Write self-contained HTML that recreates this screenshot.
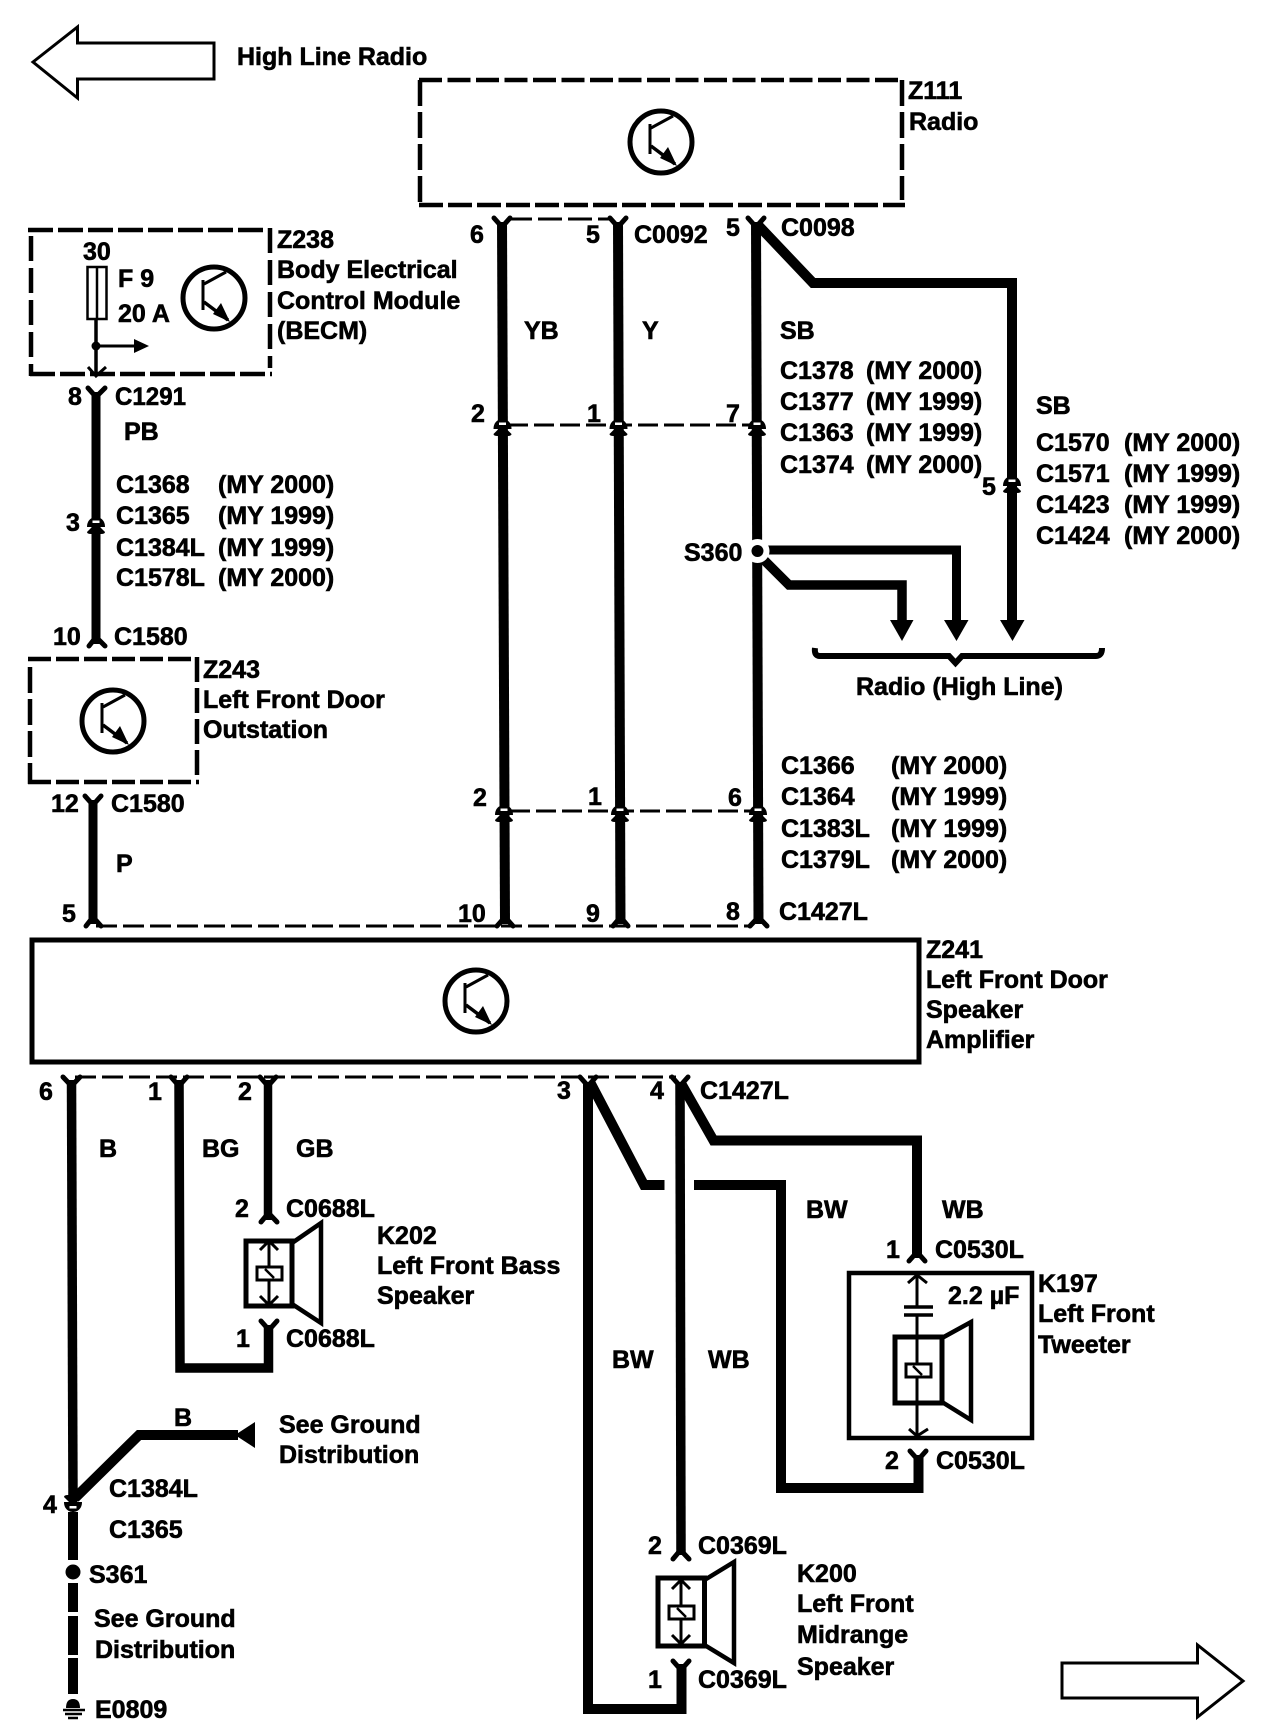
<!DOCTYPE html>
<html><head><meta charset="utf-8"><title>Radio wiring diagram</title>
<style>
html,body{margin:0;padding:0;background:#fff;width:1280px;height:1732px;overflow:hidden}
svg{display:block}
text{font-family:"Liberation Sans",Arial,sans-serif;font-weight:700;font-size:25px;fill:#000;stroke:#000;stroke-width:.6px}
.w{fill:none;stroke:#000;stroke-linejoin:miter;stroke-linecap:butt}
.f{fill:none;stroke:#000;stroke-width:5;stroke-linecap:round;stroke-linejoin:miter}
</style></head><body>
<svg xmlns="http://www.w3.org/2000/svg" width="1280" height="1732" viewBox="0 0 1280 1732">
<defs>
<g id="tr">
  <ellipse cx="0" cy="0" rx="31" ry="31" fill="none" stroke="#000" stroke-width="5"/>
  <path d="M-11 -18V12" fill="none" stroke="#000" stroke-width="3"/>
  <path d="M-10 -14L12 -26" fill="none" stroke="#000" stroke-width="3"/>
  <path d="M-10 4L14 22" fill="none" stroke="#000" stroke-width="3.500"/>
  <path d="M16 24L-1 16L7 5Z" fill="#000"/>
</g>
<g id="ic">
  <path d="M-9 5C-9 -3 -3 -5 0 -5C3 -5 9 -3 9 5Z" fill="#000"/>
  <rect x="-3.500" y="-1.500" width="7" height="2.500" fill="#fff"/>
  <path d="M-9 10L-4 5H4L9 10Q9 12 5 12H-5Q-9 12 -9 10Z" fill="#000"/>
</g>
<g id="sp">
  <path d="M0 -30V30" fill="none" stroke="#000" stroke-width="3"/>
  <path d="M-9 -23L0 -32L9 -23M-9 23L0 32L9 23" fill="none" stroke="#000" stroke-width="3"/>
  <rect x="-12" y="-6" width="25" height="13" fill="#fff" stroke="#000" stroke-width="3"/>
  <path d="M-4 -4L5 5" fill="none" stroke="#000" stroke-width="2.500"/>
</g>
</defs>

<!-- big arrows -->
<path d="M33 62L77.500 27V43H214V79H77.500V98Z" fill="none" stroke="#000" stroke-width="3"/>
<path d="M1062 1663H1197.500V1645L1243 1681L1197.500 1717V1698H1062Z" fill="none" stroke="#000" stroke-width="3"/>

<!-- Z111 box -->
<path class="w" stroke-width="4.500" stroke-dasharray="23 5.500" d="M419 80H901"/>
<path class="w" stroke-width="4.500" stroke-dasharray="24 5" d="M419 205H905"/>
<path class="w" stroke-width="4.500" stroke-dasharray="26 6" d="M420 80V205"/>
<path class="w" stroke-width="4.500" stroke-dasharray="26 6" d="M902 80V200"/>
<use href="#tr" x="661" y="142"/>

<!-- Z238 box -->
<path class="w" stroke-width="4.500" stroke-dasharray="25 5" d="M28 230H265"/>
<path class="w" stroke-width="4.500" stroke-dasharray="25 5" d="M30 374H272"/>
<path class="w" stroke-width="4.500" stroke-dasharray="25 7" d="M31 236V376"/>
<path class="w" stroke-width="4.500" stroke-dasharray="25 7" d="M270 228V368"/>
<use href="#tr" x="214" y="298"/>
<rect x="87.500" y="267" width="19" height="52" fill="none" stroke="#000" stroke-width="2.500"/>
<path d="M97 267V319" stroke="#000" stroke-width="2.500" fill="none"/>
<path d="M96 319V375" stroke="#000" stroke-width="3.500" fill="none"/>
<circle cx="96" cy="346" r="4.500" fill="#000"/>
<path d="M96 346H136" stroke="#000" stroke-width="3" fill="none"/>
<path d="M134 339L149 346L134 353Z" fill="#000"/>
<path d="M88 367L96 376L106 367" stroke="#000" stroke-width="3" fill="none"/>

<!-- Z243 box -->
<path class="w" stroke-width="4.500" stroke-dasharray="23 5" d="M28 659H192"/>
<path class="w" stroke-width="4.500" stroke-dasharray="23 5" d="M28 782H199"/>
<path class="w" stroke-width="4.500" stroke-dasharray="26 6" d="M30 667V784"/>
<path class="w" stroke-width="4.500" stroke-dasharray="25 6" d="M197 657V776"/>
<use href="#tr" x="113" y="721"/>

<!-- Z241 amp -->
<rect x="32" y="940" width="887" height="122" fill="none" stroke="#000" stroke-width="5"/>
<use href="#tr" x="476" y="1001"/>

<!-- horizontal thin dashed lines -->
<path class="w" stroke-width="3" stroke-dasharray="24 6" d="M508 219H612"/>
<path class="w" stroke-width="3" stroke-dasharray="20 6" d="M508 425H750"/>
<path class="w" stroke-width="3" stroke-dasharray="20 6" d="M510 811H752"/>
<path class="w" stroke-width="3" stroke-dasharray="21 6" d="M96 926H752"/>
<path class="w" stroke-width="3" stroke-dasharray="21 6" d="M75 1077H676"/>

<!-- upper wires -->
<path class="w" stroke-width="10" d="M502 222L505 924"/>
<path class="w" stroke-width="10" d="M618 222L620.500 924"/>
<path class="w" stroke-width="10" d="M756 222L758.500 924"/>
<path class="w" stroke-width="10" d="M757 224L813 283H1012V622"/>
<path class="w" stroke-width="9" d="M96 392V644"/>
<path class="w" stroke-width="9" d="M93 800V924"/>
<path class="w" stroke-width="9" d="M760 550H956.500V622"/>
<path class="w" stroke-width="9.500" d="M762 558L789 585H902V622"/>

<!-- arrowheads to radio -->
<path d="M890 620H913.500L902 641Z" fill="#000"/>
<path d="M944 620H968.500L956.500 641Z" fill="#000"/>
<path d="M1000 620H1024.500L1012.500 641Z" fill="#000"/>
<path d="M815 648Q814 656 820 656H949L955.500 663L962 656H1096Q1102 656 1102 648" fill="none" stroke="#000" stroke-width="6"/>

<!-- S360 -->
<circle cx="757.500" cy="551" r="12" fill="#fff"/>
<circle cx="757.500" cy="551" r="6" fill="#000"/>

<!-- forks -->
<path class="f" d="M494 218L502 227L510 218"/>
<path class="f" d="M610 218L618 227L626 218"/>
<path class="f" d="M748 218L756 227L764 218"/>
<path class="f" d="M88 388L96 397L105 388"/>
<path class="f" d="M89 646L96 637L105 646"/>
<path class="f" d="M85 796L93 805L101 796"/>
<path class="f" d="M86 926L93 917L101 926"/>
<path class="f" d="M497 926L505 917L513 926"/>
<path class="f" d="M613 926L620.500 917L628 926"/>
<path class="f" d="M750 926L758.500 917L767 926"/>

<!-- inline connectors -->
<use href="#ic" x="502.500" y="424"/>
<use href="#ic" x="618.500" y="424"/>
<use href="#ic" x="757" y="424"/>
<use href="#ic" x="504" y="810"/>
<use href="#ic" x="620" y="810"/>
<use href="#ic" x="758" y="810"/>
<use href="#ic" x="96" y="522"/>
<use href="#ic" x="1012" y="481"/>

<!-- lower wires -->
<path class="w" stroke-width="9.500" d="M71.500 1080L73 1500"/>
<path class="w" stroke-width="9.500" d="M179 1080L180 1368H268.500V1325"/>
<path class="w" stroke-width="8.500" d="M268 1080V1220"/>
<path class="w" stroke-width="10" d="M588 1082V1709H681.500V1664"/>
<path class="w" stroke-width="10" d="M590 1082L644 1185H664.500"/>
<path class="w" stroke-width="10" d="M694 1185H781V1488H918.500V1455"/>
<path class="w" stroke-width="9.500" d="M680 1082L681 1555"/>
<path class="w" stroke-width="10" d="M682 1085L713.500 1140.500H917V1258"/>

<path class="f" d="M63 1077L71.500 1086L80 1077"/>
<path class="f" d="M171 1077L179 1086L187 1077"/>
<path class="f" d="M260 1077L268 1086L276 1077"/>
<path class="f" d="M580 1077L588 1086L596 1077"/>
<path class="f" d="M672 1077L680 1086L688 1077"/>
<path class="f" d="M261 1222L268.500 1213L277 1222"/>
<path class="f" d="M261 1321L269 1330L277 1321"/>
<path class="f" d="M909 1261L917 1252L925 1261"/>
<path class="f" d="M910 1451L918 1460L926 1451"/>
<path class="f" d="M673 1559L680.500 1550L689 1559"/>
<path class="f" d="M673 1661L681 1670L689 1661"/>

<!-- K202 speaker -->
<rect x="246" y="1241" width="46" height="65" fill="#fff" stroke="#000" stroke-width="5"/>
<path d="M292 1243L321 1223V1323L292 1304" fill="none" stroke="#000" stroke-width="4.500"/>
<use href="#sp" x="269" y="1273"/>

<!-- K197 -->
<rect x="849" y="1273" width="183" height="165" fill="none" stroke="#000" stroke-width="4.500"/>
<path d="M917 1276V1307M917 1315V1435" stroke="#000" stroke-width="3" fill="none"/>
<path d="M904 1307H933M904 1315H933" stroke="#000" stroke-width="3.500" fill="none"/>
<path d="M908 1283L917 1275L927 1283M909 1429L917 1436L928 1429" stroke="#000" stroke-width="3" fill="none"/>
<rect x="895" y="1337" width="47" height="66" fill="none" stroke="#000" stroke-width="5"/>
<path d="M942 1338L971 1322V1420L942 1402" fill="none" stroke="#000" stroke-width="4.500"/>
<rect x="906" y="1364" width="25" height="13" fill="#fff" stroke="#000" stroke-width="3"/>
<path d="M913 1366L922 1375" fill="none" stroke="#000" stroke-width="2.500"/>

<!-- K200 speaker -->
<rect x="658" y="1578" width="46.500" height="68" fill="#fff" stroke="#000" stroke-width="5"/>
<path d="M704.500 1580L734 1562V1663L704.500 1645" fill="none" stroke="#000" stroke-width="4.500"/>
<use href="#sp" x="681" y="1612"/>

<!-- Ground run -->
<path class="w" stroke-width="10" d="M75 1498L139 1435H238"/>
<path d="M235 1435L255 1422V1448Z" fill="#000"/>
<g transform="translate(73 1507) scale(1 -1)"><use href="#ic"/></g>
<path class="w" stroke-width="10" d="M73 1512V1560"/>
<circle cx="73" cy="1572" r="7.500" fill="#000"/>
<path class="w" stroke-width="10" d="M73 1583V1612M73 1616V1655M73 1658V1694"/>
<path d="M66 1708Q66 1699 73 1699Q80 1699 80 1708Z" fill="#000"/>
<path d="M63 1710H85M65 1714H82M68 1718H78" stroke="#000" stroke-width="2.500" fill="none"/>

<!-- Labels -->
<text x="237" y="65">High Line Radio</text>
<text x="908" y="99">Z111</text>
<text x="909" y="130">Radio</text>
<text x="470" y="243">6</text>
<text x="586" y="243">5</text>
<text x="634" y="243">C0092</text>
<text x="726" y="236">5</text>
<text x="781" y="236">C0098</text>
<text x="277" y="248">Z238</text>
<text x="277" y="278">Body Electrical</text>
<text x="277" y="309">Control Module</text>
<text x="277" y="339">(BECM)</text>
<text x="83" y="260">30</text>
<text x="118" y="287">F 9</text>
<text x="118" y="322">20 A</text>
<text x="68" y="405">8</text>
<text x="115" y="405" textLength="71" lengthAdjust="spacingAndGlyphs">C1291</text>
<text x="124" y="440">PB</text>
<text x="524" y="339">YB</text>
<text x="642" y="339">Y</text>
<text x="780" y="339">SB</text>
<text x="780" y="379">C1378</text><text x="866" y="379">(MY 2000)</text>
<text x="780" y="410">C1377</text><text x="866" y="410">(MY 1999)</text>
<text x="780" y="441">C1363</text><text x="866" y="441">(MY 1999)</text>
<text x="780" y="473">C1374</text><text x="866" y="473">(MY 2000)</text>
<text x="471" y="422">2</text>
<text x="587" y="422">1</text>
<text x="726" y="422">7</text>
<text x="1036" y="414">SB</text>
<text x="1036" y="451">C1570</text><text x="1124" y="451">(MY 2000)</text>
<text x="1036" y="482">C1571</text><text x="1124" y="482">(MY 1999)</text>
<text x="1036" y="513">C1423</text><text x="1124" y="513">(MY 1999)</text>
<text x="1036" y="544">C1424</text><text x="1124" y="544">(MY 2000)</text>
<text x="982" y="495">5</text>
<text x="684" y="561">S360</text>
<text x="116" y="493">C1368</text><text x="218" y="493">(MY 2000)</text>
<text x="116" y="524">C1365</text><text x="218" y="524">(MY 1999)</text>
<text x="116" y="556">C1384L</text><text x="218" y="556">(MY 1999)</text>
<text x="116" y="586">C1578L</text><text x="218" y="586">(MY 2000)</text>
<text x="66" y="531">3</text>
<text x="53" y="645">10</text>
<text x="114" y="645">C1580</text>
<text x="203" y="678">Z243</text>
<text x="203" y="708">Left Front Door</text>
<text x="203" y="738">Outstation</text>
<text x="856" y="695">Radio (High Line)</text>
<text x="781" y="774">C1366</text><text x="891" y="774">(MY 2000)</text>
<text x="781" y="805">C1364</text><text x="891" y="805">(MY 1999)</text>
<text x="781" y="837">C1383L</text><text x="891" y="837">(MY 1999)</text>
<text x="781" y="868">C1379L</text><text x="891" y="868">(MY 2000)</text>
<text x="473" y="806">2</text>
<text x="588" y="805">1</text>
<text x="728" y="806">6</text>
<text x="51" y="812">12</text>
<text x="111" y="812">C1580</text>
<text x="116" y="872">P</text>
<text x="62" y="922">5</text>
<text x="458" y="922">10</text>
<text x="586" y="922">9</text>
<text x="726" y="920">8</text>
<text x="779" y="920">C1427L</text>
<text x="926" y="958">Z241</text>
<text x="926" y="988">Left Front Door</text>
<text x="926" y="1018">Speaker</text>
<text x="926" y="1048">Amplifier</text>
<text x="39" y="1100">6</text>
<text x="148" y="1100">1</text>
<text x="238" y="1100">2</text>
<text x="557" y="1099">3</text>
<text x="650" y="1099">4</text>
<text x="700" y="1099">C1427L</text>
<text x="99" y="1157">B</text>
<text x="202" y="1157">BG</text>
<text x="296" y="1157">GB</text>
<text x="235" y="1217">2</text>
<text x="286" y="1217">C0688L</text>
<text x="377" y="1244">K202</text>
<text x="377" y="1274">Left Front Bass</text>
<text x="377" y="1304">Speaker</text>
<text x="236" y="1347">1</text>
<text x="286" y="1347">C0688L</text>
<text x="806" y="1218">BW</text>
<text x="942" y="1218">WB</text>
<text x="886" y="1258">1</text>
<text x="935" y="1258">C0530L</text>
<text x="1038" y="1292">K197</text>
<text x="1038" y="1322">Left Front</text>
<text x="1038" y="1353">Tweeter</text>
<text x="948" y="1304">2.2 µF</text>
<text x="885" y="1469">2</text>
<text x="936" y="1469">C0530L</text>
<text x="612" y="1368">BW</text>
<text x="708" y="1368">WB</text>
<text x="174" y="1426">B</text>
<text x="279" y="1433">See Ground</text>
<text x="279" y="1463">Distribution</text>
<text x="109" y="1497">C1384L</text>
<text x="109" y="1538">C1365</text>
<text x="43" y="1513">4</text>
<text x="89" y="1583">S361</text>
<text x="94" y="1627">See Ground</text>
<text x="95" y="1658">Distribution</text>
<text x="95" y="1718">E0809</text>
<text x="648" y="1554">2</text>
<text x="698" y="1554">C0369L</text>
<text x="797" y="1582">K200</text>
<text x="797" y="1612">Left Front</text>
<text x="797" y="1643">Midrange</text>
<text x="797" y="1675">Speaker</text>
<text x="648" y="1688">1</text>
<text x="698" y="1688">C0369L</text>
</svg>
</body></html>
